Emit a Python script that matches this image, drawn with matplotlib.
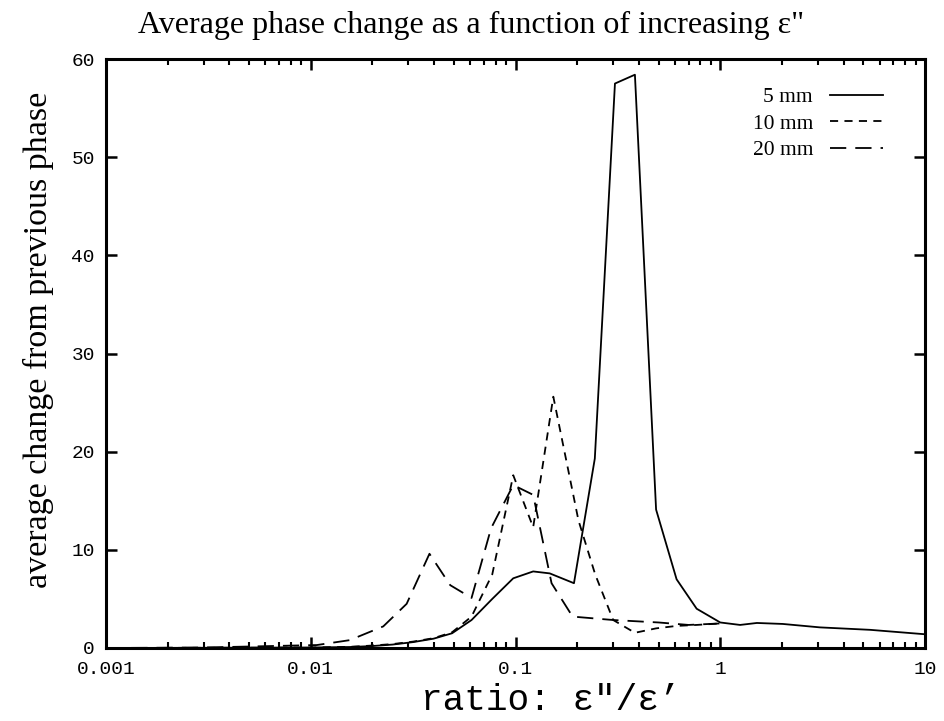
import matplotlib
matplotlib.use("Agg")
import matplotlib.pyplot as plt
from matplotlib.ticker import LogLocator, FixedLocator, NullFormatter, FixedFormatter

# ---- data ----
x_5mm = [0.001, 0.003, 0.01, 0.0155, 0.02, 0.0251, 0.0316, 0.0398, 0.049, 0.061, 0.077,
         0.0975, 0.122, 0.147, 0.193, 0.244, 0.306, 0.383, 0.486, 0.612, 0.767, 1.0,
         1.25, 1.51, 2.02, 3.07, 5.4, 10.0]
y_5mm = [0.0, 0.02, 0.05, 0.1, 0.2, 0.35, 0.6, 0.95, 1.5, 2.85, 5.0,
         7.1, 7.8, 7.6, 6.6, 19.3, 57.5, 58.4, 14.1, 7.0, 4.0, 2.6,
         2.35, 2.55, 2.45, 2.1, 1.85, 1.4]

x_10mm = [0.001, 0.003, 0.01, 0.0155, 0.02, 0.0251, 0.0316, 0.0398, 0.049, 0.061, 0.077,
          0.0975, 0.122, 0.153, 0.203, 0.245, 0.3, 0.383, 0.486, 0.612, 0.767, 1.0]
y_10mm = [0.0, 0.02, 0.05, 0.12, 0.25, 0.4, 0.65, 1.0, 1.6, 3.2, 7.5,
          17.6, 12.3, 25.6, 13.0, 7.5, 2.85, 1.55, 2.0, 2.25, 2.35, 2.5]

x_20mm = [0.001, 0.003, 0.0107, 0.0155, 0.0226, 0.0294, 0.038, 0.048, 0.061, 0.076,
          0.0975, 0.122, 0.150, 0.19, 0.3, 0.5, 0.7, 1.0]
y_20mm = [0.0, 0.05, 0.3, 0.8, 2.2, 4.5, 9.6, 6.4, 5.1, 12.2,
          16.6, 15.6, 6.6, 3.2, 2.85, 2.6, 2.35, 2.5]

labels = ["5 mm", "10 mm", "20 mm"]
xticks = [0.001, 0.01, 0.1, 1, 10]
xticklabels = ["0.001", "0.01", "0.1", "1", "10"]
yticks = [0, 10, 20, 30, 40, 50, 60]

# ---- figure ----
W, H = 944, 721
L, R, T, B = 106, 925, 59, 648
fig = plt.figure(figsize=(W / 100, H / 100), dpi=100)
ax = fig.add_axes([L / W, 1 - B / H, (R - L) / W, (B - T) / H])

lw = 1.3
ax.plot(x_5mm, y_5mm, color="black", lw=lw, linestyle="-", label=labels[0])
ax.plot(x_10mm, y_10mm, color="black", lw=lw, linestyle=(0, (4.5, 3.5)), label=labels[1])
ax.plot(x_20mm, y_20mm, color="black", lw=lw, linestyle=(0, (9, 5)), label=labels[2])

ax.set_xscale("log")
ax.set_xlim(0.001, 10)
ax.set_ylim(0, 60)

ax.xaxis.set_major_locator(FixedLocator(xticks))
ax.xaxis.set_major_formatter(FixedFormatter(xticklabels))
ax.xaxis.set_minor_locator(LogLocator(base=10, subs=range(2, 10), numticks=20))
ax.xaxis.set_minor_formatter(NullFormatter())
ax.set_yticks(yticks)
ax.set_yticklabels([str(v) for v in yticks])

ax.tick_params(which="major", direction="in", length=8, width=1.8,
               top=True, right=True)
ax.tick_params(axis="x", which="major", pad=9)
ax.tick_params(axis="y", which="major", pad=8)
ax.tick_params(which="minor", direction="in", length=4, width=1.5,
               top=True, right=True)
for lab in ax.get_xticklabels() + ax.get_yticklabels():
    lab.set_family("Liberation Mono")
    lab.set_fontsize(14)
for sp in ax.spines.values():
    sp.set_linewidth(2.2)

fig.text(471 / W, 1 - 25 / H, "Average phase change as a function of increasing \u03b5\"",
         family="Liberation Serif", fontsize=23, ha="center", va="center")

ax.set_ylabel("average change from previous phase", family="Liberation Serif",
              fontsize=24.5)
ax.yaxis.set_label_coords((38 - L) / (R - L), (B - 340) / (B - T))
ax.yaxis.label.set_va("center")

ax.set_xlabel("ratio: \u03b5\"/\u03b5\u2019", family="Liberation Mono", fontsize=26)
ax.xaxis.set_label_coords((551 - L) / (R - L), (B - 701) / (B - T))
ax.xaxis.label.set_va("center")

leg = ax.legend(loc="upper right", frameon=False, markerfirst=False,
                prop={"family": "Liberation Serif", "size": 15.5},
                handlelength=2.45, handletextpad=0.8, labelspacing=0.3,
                borderpad=0.0, borderaxespad=0.0,
                bbox_to_anchor=((883 - L) / (R - L), (B - 87) / (B - T)))
for t in leg.get_texts():
    t.set_ha("right")

fig.savefig("out.png", dpi=100)
